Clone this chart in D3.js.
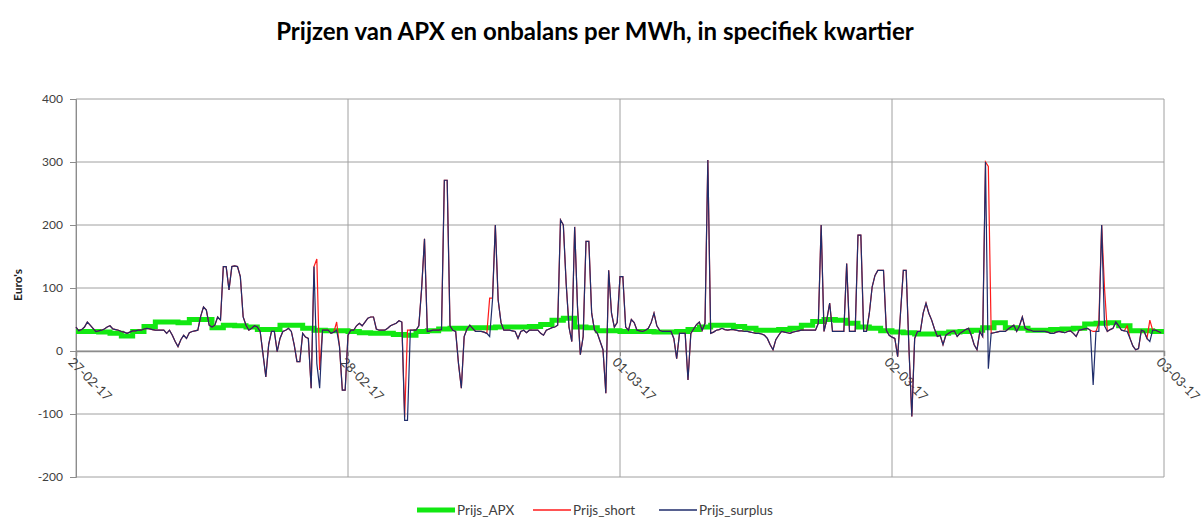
<!DOCTYPE html>
<html>
<head>
<meta charset="utf-8">
<title>Prijzen APX en onbalans</title>
<script src="https://d3js.org/d3.v7.min.js"></script>
<style>
body { margin: 0; background: #fff; }
svg text { font-family: Lato, "Open Sans", sans-serif; }
</style>
</head>
<body>
<div id="chart"></div>

<script>
// Quarter-hour prices (4 days x 96 quarters)
var dayLabels = ["27-02-17", "28-02-17", "01-03-17", "02-03-17", "03-03-17"];
var yTicks = [-200, -100, 0, 100, 200, 300, 400];
var seriesNames = ["Prijs_APX", "Prijs_short", "Prijs_surplus"];

// APX is hourly (96 values)
var prijsAPX = [
  31,31,30,28,24,31,39,46,46,45,50,50,37,41,40,38,34,34,41,41,36,33,32,32,
  31,29,28,28,26,25,31,32,35,36,36,37,37,38,38,38,39,42,49,52,38,37,32,32,
  31,31,31,30,30,31,34,38,41,41,39,36,33,33,34,36,41,47,50,49,44,38,36,32,
  30,29,27,27,28,30,31,33,37,45,37,36,33,33,34,35,36,43,44,45,40,32,32,31
];

var prijsSurplus = [
  38,32,34,38,46,41,36,31,32,33,35,38,40,35,34,33,31,30,28,30,32,32,33,33,
  35,36,35,34,33,33,33,33,28,33,25,15,7,18,25,20,29,31,32,33,55,70,65,41,
  38,41,54,49,134,134,97,134,135,134,118,54,41,33,36,40,38,31,-5,-41,10,31,31,-1,
  20,31,33,36,31,10,-17,-17,28,22,20,-59,134,-20,-59,33,33,33,28,30,33,7,-62,-62,
  25,33,33,40,44,40,46,52,54,54,35,33,33,33,36,40,42,44,48,46,-110,-110,33,33,
  33,40,100,178,31,32,33,33,33,34,271,271,40,33,31,-20,-59,23,35,41,36,31,31,31,
  30,28,23,81,200,81,45,33,33,33,32,31,20,31,33,29,33,33,33,33,28,25,33,35,
  37,38,41,208,200,107,38,15,197,70,-6,23,174,174,60,33,28,15,2,-67,128,60,38,45,
  118,118,38,33,50,45,33,32,31,33,36,45,60,40,33,31,31,31,31,20,-12,28,28,28,
  -46,28,35,42,46,33,44,303,28,30,33,34,36,34,33,34,34,33,32,32,31,31,30,29,
  28,28,27,25,20,10,2,18,25,31,30,29,28,30,31,32,33,33,33,33,33,33,44,200,
  31,50,76,31,31,31,31,31,139,31,31,31,184,184,31,31,60,102,120,128,128,128,33,25,
  22,20,-9,60,128,128,2,-104,20,31,31,60,76,60,49,35,23,25,10,25,28,31,32,23,
  28,31,34,36,25,10,2,31,23,300,-28,28,29,30,31,31,31,35,38,41,31,40,54,36,
  34,33,31,31,31,31,31,30,28,28,30,31,30,29,31,32,28,23,33,34,35,36,33,-54,
  31,31,200,40,31,34,36,46,40,33,32,31,20,8,2,4,33,31,20,15,33,33,31,29
];

var prijsShort = [
  38,32,34,38,46,41,36,31,32,33,35,38,40,35,34,33,31,30,28,30,32,32,33,33,
  35,36,35,34,33,33,33,33,28,33,25,15,7,18,25,20,29,31,32,33,55,70,65,41,
  38,41,54,49,134,134,97,134,135,134,118,54,41,33,36,40,38,31,-5,-41,10,31,31,-1,
  20,31,33,36,31,10,-17,-17,28,22,20,-59,134,146,-30,33,33,33,28,30,46,7,-62,-62,
  25,33,33,40,44,40,46,52,54,54,35,33,33,33,36,40,42,44,48,46,-105,33,33,33,
  33,40,100,178,31,32,33,33,33,34,271,271,40,33,31,-20,-59,23,35,41,36,31,31,31,
  30,28,84,84,200,81,45,33,33,33,32,31,20,31,33,29,33,33,33,33,28,25,33,35,
  37,38,41,208,200,107,38,15,197,70,-6,23,174,174,60,33,28,15,2,-67,128,60,38,45,
  118,118,38,33,50,45,33,32,31,33,36,45,60,40,33,31,31,31,31,20,-12,28,28,28,
  -46,28,35,42,46,33,44,303,28,30,33,34,36,34,33,34,34,33,32,32,31,31,30,29,
  28,28,27,25,20,10,2,18,25,31,30,29,28,30,31,32,33,33,33,33,33,33,44,200,
  31,50,76,31,31,31,31,31,139,31,31,31,184,184,31,31,60,102,120,128,128,128,33,25,
  22,20,-9,60,128,128,2,-104,20,31,31,60,76,60,49,35,23,25,10,25,28,31,32,23,
  28,31,34,36,25,10,2,31,23,300,293,28,29,30,31,31,31,35,38,41,31,40,54,36,
  34,33,31,31,31,31,31,30,28,28,30,31,30,29,31,32,28,23,33,34,35,36,33,31,
  31,44,200,100,31,34,36,46,40,33,32,40,20,8,2,4,33,31,20,49,33,33,31,29
];

var width = 1204;
var height = 529;
// note: "top" is taken by window.top, so plot edges get their own names
var plotLeft = 76, plotRight = 1164, plotTop = 99, plotBottom = 477;
var quartersPerDay = 96;
var nQuarters = quartersPerDay * (dayLabels.length - 1);

var x = d3.scaleLinear().domain([0, nQuarters]).range([plotLeft, plotRight]);
var y = d3.scaleLinear().domain([-200, 400]).range([plotBottom, plotTop]);

var svg = d3.select("#chart").append("svg")
  .attr("width", width)
  .attr("height", height);

// Title
svg.append("text")
  .attr("x", 595)
  .attr("y", 40)
  .attr("text-anchor", "middle")
  .style("font-size", "24px")
  .style("font-weight", "bold")
  .attr("fill", "#000")
  .text("Prijzen van APX en onbalans per MWh, in specifiek kwartier");

// Horizontal gridlines
svg.append("g")
  .selectAll("line")
  .data(yTicks)
  .join("line")
  .attr("x1", plotLeft).attr("x2", plotRight)
  .attr("y1", d => y(d)).attr("y2", d => y(d))
  .attr("stroke", "#a0a0a0")
  .attr("stroke-width", 1);

// Vertical gridlines, one per day
var dayTicks = dayLabels.map((d, i) => i * quartersPerDay);
svg.append("g")
  .selectAll("line")
  .data(dayTicks)
  .join("line")
  .attr("x1", d => x(d)).attr("x2", d => x(d))
  .attr("y1", plotTop).attr("y2", plotBottom)
  .attr("stroke", "#a0a0a0")
  .attr("stroke-width", 1);

// Y axis (plain hyphen for negatives, like the original)
var yAxis = svg.append("g")
  .attr("transform", "translate(" + plotLeft + ",0)")
  .call(d3.axisLeft(y).tickValues(yTicks).tickSize(6).tickPadding(7).tickFormat(d => String(d)));
yAxis.select(".domain").attr("stroke", "#8c8c8c");
yAxis.selectAll(".tick line").attr("stroke", "#8c8c8c");
yAxis.selectAll("text")
  .style("font-size", "12px")
  .attr("fill", "#404040");

// Y axis title
svg.append("text")
  .attr("transform", "translate(22,285) rotate(-90)")
  .attr("text-anchor", "middle")
  .style("font-size", "12px")
  .style("font-weight", "bold")
  .attr("fill", "#222")
  .text("Euro's");

// X axis at zero
var xAxis = svg.append("g")
  .attr("transform", "translate(0," + y(0) + ")")
  .call(d3.axisBottom(x).tickValues(dayTicks).tickSize(5).tickFormat((d, i) => dayLabels[i]));
xAxis.select(".domain").attr("stroke", "#8c8c8c").attr("stroke-width", 1.5);
xAxis.selectAll(".tick line").attr("stroke", "#8c8c8c");
xAxis.selectAll("text")
  .attr("text-anchor", "start")
  .attr("x", 0).attr("y", 0).attr("dy", "0.75em")
  .attr("transform", "translate(-2,5) rotate(45)")
  .style("font-size", "13px")
  .attr("fill", "#404040");

// Lines
var lineQ = d3.line()
  .x((d, i) => x(i))
  .y(d => y(d));

// APX: hourly steps
var apxPoints = prijsAPX.map((v, h) => [h * 4, v]);
apxPoints.push([nQuarters, prijsAPX[prijsAPX.length - 1]]);
var lineH = d3.line()
  .x(d => x(d[0]))
  .y(d => y(d[1]))
  .curve(d3.curveStepAfter);

var green = "#12e812", red = "#ff1a1a", navy = "#1f2d6b";

svg.append("path")
  .datum(apxPoints)
  .attr("d", lineH)
  .attr("fill", "none")
  .attr("stroke", green)
  .attr("stroke-width", 5);

svg.append("path")
  .datum(prijsShort)
  .attr("d", lineQ)
  .attr("fill", "none")
  .attr("stroke", red)
  .attr("stroke-width", 1.2);

svg.append("path")
  .datum(prijsSurplus)
  .attr("d", lineQ)
  .attr("fill", "none")
  .attr("stroke", navy)
  .attr("stroke-width", 1.2);

// Legend
var legend = [
  {name: seriesNames[0], color: green, w: 5, x: 417},
  {name: seriesNames[1], color: red, w: 1.5, x: 533},
  {name: seriesNames[2], color: navy, w: 1.5, x: 659}
];
var lg = svg.append("g").selectAll("g").data(legend).join("g")
  .attr("transform", d => "translate(" + d.x + ",510)");
lg.append("line")
  .attr("x1", 0).attr("x2", 38)
  .attr("stroke", d => d.color)
  .attr("stroke-width", d => d.w);
lg.append("text")
  .attr("x", 40)
  .attr("dy", "0.35em")
  .style("font-size", "13.5px")
  .attr("fill", "#404040")
  .text(d => d.name);
</script>
</body>
</html>
